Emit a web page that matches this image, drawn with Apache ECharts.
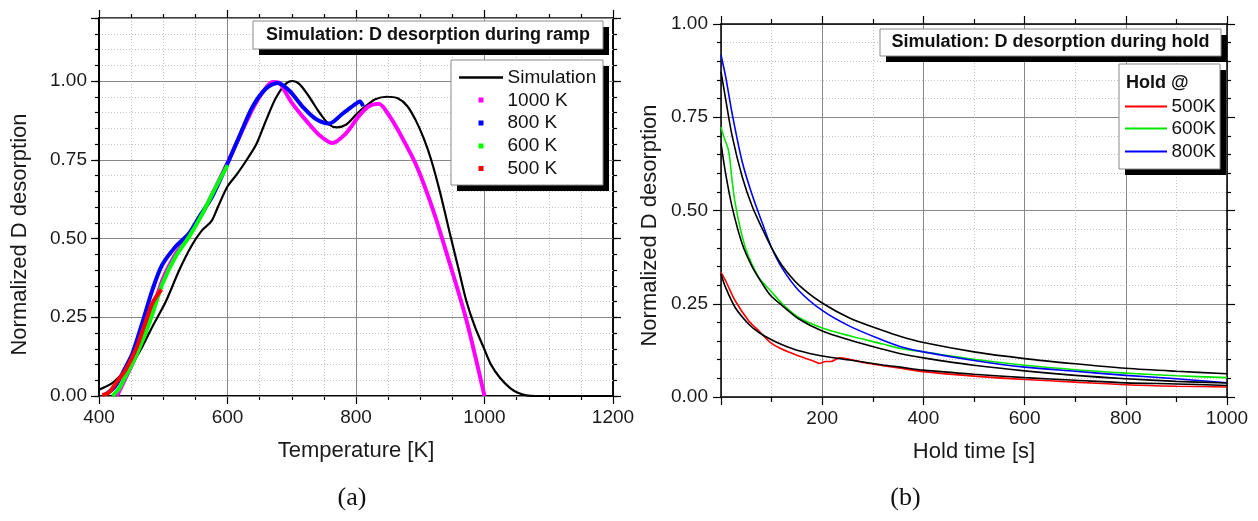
<!DOCTYPE html>
<html><head><meta charset="utf-8">
<script src="https://cdn.jsdelivr.net/npm/echarts@6/dist/echarts.min.js"></script>
<style>html,body{margin:0;padding:0;background:#fff}#c{width:1258px;height:521px}</style>
</head><body><div id="c"></div>
<script>
// ---------- Panel (a): ramp ----------
const rampTempTicks = [400, 600, 800, 1000, 1200];
const rampYTicks = [0, 0.25, 0.5, 0.75, 1.0];
const rampSimulation = [[400,0.02],[420,0.04],[436,0.07],[452,0.105],[467,0.155],[483,0.22],[504,0.30],[525,0.40],[545,0.48],[560,0.525],[575,0.555],[585,0.60],[600,0.665],[615,0.705],[630,0.75],[645,0.80],[660,0.875],[675,0.945],[690,0.99],[701,1.0],[712,0.99],[727,0.95],[743,0.90],[758,0.862],[770,0.853],[785,0.862],[801,0.895],[815,0.92],[830,0.942],[848,0.95],[865,0.945],[880,0.92],[893,0.875],[905,0.82],[917,0.75],[931,0.645],[948,0.50],[960,0.40],[972,0.30],[985,0.22],[998,0.157],[1010,0.10],[1024,0.058],[1040,0.025],[1052,0.01],[1065,0.002],[1080,0],[1200,0]];
const ramp1000K = [[428,0],[441,0.055],[457,0.125],[478,0.24],[499,0.37],[519,0.45],[540,0.51],[561,0.58],[582,0.665],[600,0.74],[620,0.83],[640,0.915],[655,0.965],[670,0.997],[680,0.995],[690,0.965],[701,0.928],[722,0.875],[743,0.828],[763,0.803],[784,0.833],[805,0.89],[820,0.92],[835,0.928],[853,0.886],[874,0.812],[895,0.727],[920,0.59],[946,0.42],[972,0.24],[1000,0]];
const ramp800K = [[410,0.005],[425,0.03],[441,0.09],[452,0.135],[467,0.23],[483,0.336],[498,0.415],[519,0.474],[540,0.516],[556,0.569],[576,0.632],[600,0.738],[618,0.822],[639,0.918],[660,0.976],[678,0.994],[696,0.97],[717,0.918],[737,0.88],[758,0.865],[779,0.896],[800,0.928],[806,0.935],[811,0.92]];
const ramp600K = [[421,0],[430,0.02],[441,0.061],[457,0.125],[478,0.23],[499,0.357],[519,0.442],[540,0.505],[561,0.579],[582,0.664],[600,0.733]];
const ramp500K = [[405,0.003],[415,0.01],[426,0.04],[441,0.082],[457,0.146],[470,0.22],[483,0.294],[497,0.338]];

// ---------- Panel (b): hold ----------
const holdTimeTicks = [0, 200, 400, 600, 800, 1000];
const holdYTicks = [0, 0.25, 0.5, 0.75, 1.0];
const hold500K = [[0,0.334],[9,0.312],[28,0.258],[55,0.204],[75,0.177],[98,0.146],[121,0.128],[154,0.11],[187,0.094],[194,0.09],[207,0.095],[217,0.095],[234,0.105],[254,0.101],[287,0.091],[320,0.084],[355,0.077],[400,0.068],[500,0.056],[600,0.047],[700,0.04],[800,0.033],[900,0.029],[1000,0.027]];
const hold600K = [[0,0.724],[5,0.70],[15,0.66],[22,0.58],[28,0.52],[42,0.43],[55,0.375],[75,0.32],[98,0.285],[121,0.25],[154,0.213],[200,0.185],[254,0.164],[320,0.142],[355,0.13],[400,0.121],[500,0.101],[600,0.085],[700,0.073],[800,0.064],[900,0.057],[1000,0.052]];
const hold800K = [[0,0.917],[9,0.86],[22,0.76],[42,0.63],[62,0.54],[82,0.465],[100,0.40],[121,0.345],[154,0.285],[200,0.232],[254,0.19],[320,0.152],[355,0.135],[400,0.121],[500,0.098],[600,0.080],[700,0.069],[800,0.058],[900,0.049],[1000,0.038]];
const sim500K = [[0,0.33],[9,0.294],[28,0.24],[55,0.195],[75,0.173],[98,0.155],[121,0.14],[154,0.124],[200,0.11],[254,0.099],[320,0.086],[355,0.080],[400,0.072],[500,0.061],[600,0.052],[700,0.045],[800,0.038],[900,0.035],[1000,0.031]];
const sim600K = [[0,0.68],[9,0.60],[22,0.509],[42,0.41],[62,0.348],[82,0.303],[98,0.272],[121,0.245],[154,0.209],[200,0.177],[254,0.153],[320,0.128],[355,0.116],[400,0.105],[500,0.085],[600,0.07],[700,0.058],[800,0.049],[900,0.042],[1000,0.0375]];
const sim800K = [[0,0.872],[9,0.80],[22,0.70],[42,0.59],[62,0.51],[82,0.45],[100,0.40],[121,0.352],[154,0.30],[200,0.252],[254,0.212],[320,0.178],[355,0.162],[400,0.146],[500,0.121],[600,0.103],[700,0.089],[800,0.077],[900,0.069],[1000,0.0625]];

const FONT = "'Liberation Sans', Arial, Helvetica, sans-serif";
const MAJ = {show:true, lineStyle:{color:'#888', width:1, type:'solid'}};
const MIN = {show:true, lineStyle:{color:'#c4c4c4', width:1, type:[1,2]}};
const TXT = '#1a1a1a';

function isTick(v, list){ return list.some(t => Math.abs(t - v) < 1e-6); }

function ax(o){
  return Object.assign({
    type:'value', scale:false,
    axisLine:{show:true, onZero:false, lineStyle:{color:'#000', width:1.5}},
    axisTick:{show:true, inside:false, length:8, lineStyle:{color:'#000', width:1.2}},
    minorTick:{show:false},
    axisLabel:{show:false},
    splitLine:{show:false},
    minorSplitLine:{show:false}
  }, o);
}

const xAxis = [
  ax({gridIndex:0, position:'bottom', min:rampTempTicks[0], max:rampTempTicks[rampTempTicks.length-1], interval:200,
      axisLine:{show:true,onZero:false,lineStyle:{color:'#000',width:2}},
      minorTick:{show:true, splitNumber:4, length:4, lineStyle:{color:'#000',width:1.2}},
      splitLine:MAJ, minorSplitLine:MIN,
      axisLabel:{show:true, margin:12, fontSize:19, fontFamily:FONT, color:TXT,
        formatter:v => isTick(v, rampTempTicks) ? String(v) : ''},
      name:'Temperature [K]', nameLocation:'middle', nameGap:44,
      nameTextStyle:{fontSize:22, fontFamily:FONT, color:TXT}}),
  ax({gridIndex:0, position:'top', min:400, max:1200, interval:200,
      minorTick:{show:true, splitNumber:4, length:4, lineStyle:{color:'#000',width:1.2}}}),
  ax({gridIndex:1, position:'bottom', min:holdTimeTicks[0], max:holdTimeTicks[holdTimeTicks.length-1], interval:200,
      minorTick:{show:true, splitNumber:2, length:5, lineStyle:{color:'#000',width:1.2}},
      splitLine:MAJ, minorSplitLine:MIN,
      axisLabel:{show:true, margin:12, fontSize:19, fontFamily:FONT, color:TXT,
        formatter:v => (v === 0 || !isTick(v, holdTimeTicks)) ? '' : String(v)},
      name:'Hold time [s]', nameLocation:'middle', nameGap:44,
      nameTextStyle:{fontSize:22, fontFamily:FONT, color:TXT}}),
  ax({gridIndex:1, position:'top', min:0, max:1000, interval:200,
      minorTick:{show:true, splitNumber:2, length:5, lineStyle:{color:'#000',width:1.2}}})
];

const yAxis = [
  ax({gridIndex:0, position:'left', min:0, max:1.2, interval:0.25, z:2,
      axisLine:{show:true,onZero:false,lineStyle:{color:'#000',width:2}},
      splitLine:{show:true, lineStyle:{color:'#888', width:1}},
      axisLabel:{show:true, margin:12, fontSize:19, fontFamily:FONT, color:TXT,
        formatter:v => isTick(v, rampYTicks) ? v.toFixed(2) : ''},
      name:'Normalized D desorption', nameLocation:'middle', nameGap:68,
      nameTextStyle:{fontSize:22, fontFamily:FONT, color:TXT, padding:[0,55,0,0]}}),
  ax({gridIndex:0, position:'left', min:0, max:1.2, interval:0.05, z:1,
      axisTick:{show:true, length:4, lineStyle:{color:'#000',width:1.2}},
      splitLine:MIN}),
  ax({gridIndex:0, position:'right', min:0, max:1.2, interval:0.25}),
  ax({gridIndex:0, position:'right', min:0, max:1.2, interval:0.05,
      axisTick:{show:true, length:4, lineStyle:{color:'#000',width:1.2}}}),
  ax({gridIndex:1, position:'left', min:holdYTicks[0], max:holdYTicks[holdYTicks.length-1], interval:0.25,
      minorTick:{show:true, splitNumber:5, length:4, lineStyle:{color:'#000',width:1.2}},
      splitLine:MAJ, minorSplitLine:MIN,
      axisLabel:{show:true, margin:13, fontSize:19, fontFamily:FONT, color:TXT,
        formatter:v => isTick(v, holdYTicks) ? v.toFixed(2) : ''},
      name:'Normalized D desorption', nameLocation:'middle', nameGap:60,
      nameTextStyle:{fontSize:22, fontFamily:FONT, color:TXT, padding:[0,30,0,0]}}),
  ax({gridIndex:1, position:'right', min:0, max:1, interval:0.25,
      minorTick:{show:true, splitNumber:5, length:4, lineStyle:{color:'#000',width:1.2}}})
];

function ln(name, data, color, width, xi, yi){
  return {type:'line', name, data, xAxisIndex:xi, yAxisIndex:yi, showSymbol:false, symbol:'none',
    smooth:0.3, lineStyle:{color, width}, itemStyle:{color}, z:3};
}

const series = [
  ln('Simulation', rampSimulation, '#000', 2.2, 0, 0),
  ln('1000 K', ramp1000K, '#ff00ff', 4, 0, 0),
  ln('800 K', ramp800K, '#0000ff', 4, 0, 0),
  ln('600 K', ramp600K, '#00ff00', 4, 0, 0),
  ln('500 K', ramp500K, '#ff0000', 4, 0, 0),
  ln('500K', hold500K, '#ff0000', 1.6, 2, 4),
  ln('600K', hold600K, '#00e600', 1.6, 2, 4),
  ln('800K', hold800K, '#0000ff', 1.6, 2, 4),
  ln('Sim 500K', sim500K, '#000', 1.6, 2, 4),
  ln('Sim 600K', sim600K, '#000', 1.6, 2, 4),
  ln('Sim 800K', sim800K, '#000', 1.6, 2, 4)
];

function boxShadow(x, y, w, h){
  return [
    {type:'rect', shape:{x:x+6, y:y+6, width:w, height:h}, style:{fill:'#000'}, z:10},
    {type:'rect', shape:{x:x, y:y, width:w, height:h}, style:{fill:'#fff', stroke:'#8a8a8a', lineWidth:1}, z:11}
  ];
}
function txt(x, y, text, size, weight, align, family){
  return {type:'text', x, y, z:12, style:{text, fontSize:size, fontWeight:weight||'normal', fontFamily:family||FONT,
    fill:'#111', align:align||'left', verticalAlign:'middle', textAlign:align||'left', textVerticalAlign:'middle'}};
}
function lgLine(x1, x2, y, color, w){
  return {type:'line', shape:{x1, y1:y, x2, y2:y}, style:{stroke:color, lineWidth:w}, z:12};
}
function lgSq(cx, cy, color){
  return {type:'rect', shape:{x:cx-2.5, y:cy-2.5, width:5, height:5}, style:{fill:color}, z:12};
}

const graphic = [].concat(
  boxShadow(253, 21, 350, 28),
  [txt(428, 35.5, 'Simulation: D desorption during ramp', 18, 'bold', 'center')],
  boxShadow(451, 60, 152, 125),
  [lgLine(459, 503, 77.5, '#000', 2.5), txt(507.5, 77.5, 'Simulation', 19),
   lgSq(481, 100, '#ff00ff'), txt(507.5, 100.5, '1000 K', 19),
   lgSq(481, 123, '#0000ff'), txt(507.5, 123, '800 K', 19),
   lgSq(481, 146, '#00ff00'), txt(507.5, 146, '600 K', 19),
   lgSq(481, 168.5, '#ff0000'), txt(507.5, 168.5, '500 K', 19)],
  boxShadow(880, 29, 341, 27),
  [txt(1050.5, 42.5, 'Simulation: D desorption during hold', 18, 'bold', 'center')],
  boxShadow(1119, 64, 101, 105),
  [txt(1126, 83.5, 'Hold @', 18, 'bold'),
   lgLine(1125, 1167, 106.5, '#ff0000', 1.8), txt(1171.5, 106.5, '500K', 19),
   lgLine(1125, 1167, 128.5, '#00e600', 1.8), txt(1171.5, 128.5, '600K', 19),
   lgLine(1125, 1167, 151.5, '#0000ff', 1.8), txt(1171.5, 151.5, '800K', 19)],
  [txt(352, 498, '(a)', 26, 'normal', 'center', "'Liberation Serif', 'Times New Roman', serif"),
   txt(905.5, 498, '(b)', 26, 'normal', 'center', "'Liberation Serif', 'Times New Roman', serif")]
);

const chart = echarts.init(document.getElementById('c'), null, {renderer:'canvas'});
chart.setOption({
  backgroundColor:'#fff',
  animation:false,
  grid:[
    {left:99, top:18, width:514, height:378, containLabel:false},
    {left:721, top:24, width:506, height:373, containLabel:false}
  ],
  xAxis, yAxis, series, graphic
});
</script></body></html>
